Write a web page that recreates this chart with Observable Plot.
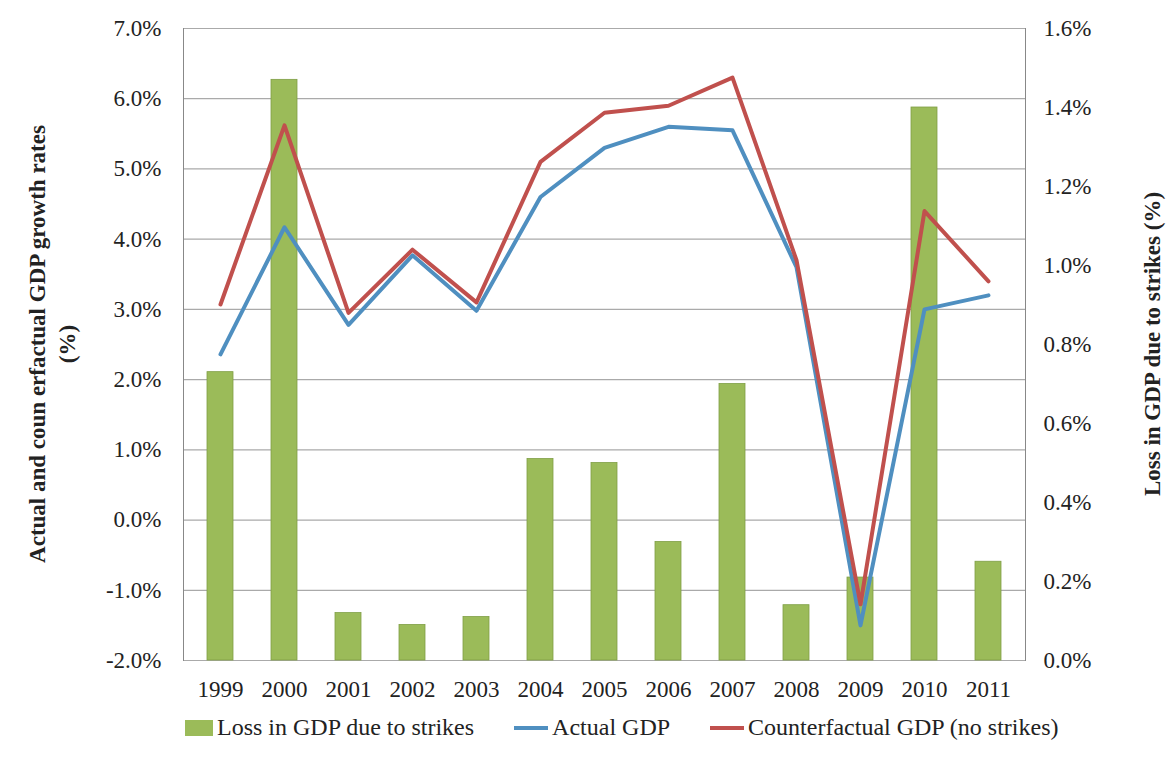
<!DOCTYPE html>
<html><head><meta charset="utf-8">
<script src="https://cdn.jsdelivr.net/npm/d3@7"></script>
<script src="https://cdn.jsdelivr.net/npm/@observablehq/plot@0.6"></script>
<style>
body{margin:0;background:#fff;font-family:"Liberation Serif",serif;}
svg text{font-family:"Liberation Serif",serif !important;}
#legend{display:flex;gap:40px;margin-left:185px;font-size:24px;color:#222;margin-top:2px}
#legend span{display:flex;align-items:center;gap:4px}
</style></head><body>
<div id="chart"></div>
<div id="legend">
<span><i style="display:inline-block;width:28px;height:16px;background:#9bbb59"></i>Loss in GDP due to strikes</span>
<span><i style="display:inline-block;width:34px;height:4px;background:#4f8fc0"></i>Actual GDP</span>
<span><i style="display:inline-block;width:34px;height:4px;background:#c0504d"></i>Counterfactual GDP (no strikes)</span>
</div>
<script>
const years = ["1999","2000","2001","2002","2003","2004","2005","2006","2007","2008","2009","2010","2011"];
const loss = [0.73,1.47,0.12,0.09,0.11,0.51,0.50,0.30,0.70,0.14,0.21,1.40,0.25];
const actual = [2.36,4.17,2.78,3.77,2.98,4.6,5.3,5.6,5.55,3.6,-1.5,3.0,3.2];
const counter = [3.07,5.62,2.95,3.85,3.1,5.1,5.8,5.9,6.3,3.7,-1.2,4.4,3.4];
const leftTicks = [-2,-1,0,1,2,3,4,5,6,7];
const rightTicks = [0,0.2,0.4,0.6,0.8,1.0,1.2,1.4,1.6];

const toLeft = v => -2 + v / 1.6 * 9;
const barData = years.map((y, i) => ({year: y, v: toLeft(loss[i])}));
const actData = years.map((y, i) => ({year: y, v: actual[i]}));
const cfData = years.map((y, i) => ({year: y, v: counter[i]}));

const chart = Plot.plot({
  width: 1166, height: 712,
  marginLeft: 183, marginRight: 141, marginTop: 28, marginBottom: 52,
  style: {fontFamily: "'Liberation Serif', serif", fontSize: "23px", color: "#222"},
  x: {type: "band", domain: years, paddingInner: 0.6, paddingOuter: 0.3, label: null},
  y: {domain: [-2, 7], label: null},
  marks: [
    Plot.ruleY(leftTicks, {stroke: "#aaa", strokeWidth: 1.2}),
    Plot.barY(barData, {x: "year", y1: -2, y2: "v", fill: "#9bbb59", stroke: "#7f9f45", strokeWidth: 0.8}),
    Plot.line(actData, {x: "year", y: "v", stroke: "#4f8fc0", strokeWidth: 4}),
    Plot.line(cfData, {x: "year", y: "v", stroke: "#c0504d", strokeWidth: 4}),
    Plot.axisY(leftTicks, {anchor: "left", tickFormat: d => d.toFixed(1) + "%", tickSize: 0, tickPadding: 22, label: null}),
    Plot.axisY(rightTicks.map(toLeft), {anchor: "right", tickFormat: (d, i) => rightTicks[i].toFixed(1) + "%", tickSize: 0, tickPadding: 18, label: null}),
    Plot.axisX({tickSize: 0, tickPadding: 20, label: null}),
    Plot.frame({anchor: "left", stroke: "#888"}),
    Plot.frame({anchor: "right", stroke: "#888"})
  ]
});
document.getElementById("chart").append(chart);
const svg = d3.select(chart);
svg.append("text").attr("transform","translate(45,344) rotate(-90)").attr("text-anchor","middle")
  .attr("font-weight","bold").attr("font-size",23).text("Actual and coun erfactual GDP growth rates");
svg.append("text").attr("transform","translate(75,344) rotate(-90)").attr("text-anchor","middle")
  .attr("font-weight","bold").attr("font-size",23).text("(%)");
svg.append("text").attr("transform","translate(1160,344) rotate(-90)").attr("text-anchor","middle")
  .attr("font-weight","bold").attr("font-size",23).text("Loss in GDP due to strikes (%)");
</script>
</body></html>
